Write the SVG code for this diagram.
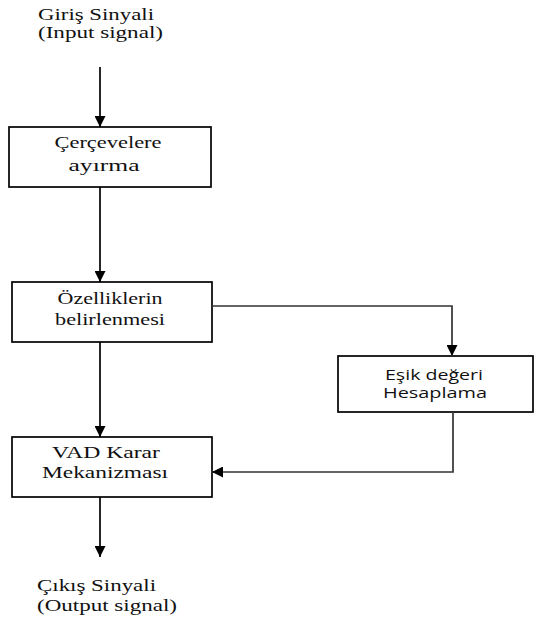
<svg xmlns="http://www.w3.org/2000/svg" width="534" height="624" viewBox="0 0 534 624">
<style>
.box{fill:#fff;stroke:#000;stroke-width:1.7}
.ln{fill:none;stroke:#000;stroke-width:1.7}
.lg{fill:none;stroke:#333;stroke-width:1.7}
.t{font-family:"Liberation Serif","Times New Roman",serif;font-size:16px;fill:#111}
.s{font-family:"Open Sans","Liberation Sans",sans-serif;font-size:14px;fill:#111}
.c{text-anchor:middle}
</style>
<defs>
<marker id="ah" viewBox="0 0 11 11" refX="11" refY="5.5" markerWidth="11" markerHeight="11" markerUnits="userSpaceOnUse" orient="auto">
<path d="M0,0 L11,5.5 L0,11 Z" fill="#000"/>
</marker>
</defs>
<rect width="534" height="624" fill="#fff"/>
<g id="input">
<text class="t" x="38" y="20" textLength="116" lengthAdjust="spacingAndGlyphs">Giriş Sinyali</text>
<text class="t" x="38" y="38" textLength="125" lengthAdjust="spacingAndGlyphs">(Input signal)</text>
</g>
<g id="cerceve">
<rect class="box" x="9" y="127" width="202" height="60"/>
<text class="t c" x="108" y="148" textLength="107" lengthAdjust="spacingAndGlyphs">Çerçevelere</text>
<text class="t c" x="104" y="171" textLength="71" lengthAdjust="spacingAndGlyphs">ayırma</text>
</g>
<g id="ozellik">
<rect class="box" x="12" y="282" width="200" height="60"/>
<text class="t c" x="110" y="304" textLength="105" lengthAdjust="spacingAndGlyphs">Özelliklerin</text>
<text class="t c" x="110" y="325" textLength="110" lengthAdjust="spacingAndGlyphs">belirlenmesi</text>
</g>
<g id="esik">
<rect class="box" x="338" y="356" width="195" height="56"/>
<text class="s c" x="434" y="380" textLength="98" lengthAdjust="spacingAndGlyphs">Eşik değeri</text>
<text class="s c" x="435" y="398" textLength="104" lengthAdjust="spacingAndGlyphs">Hesaplama</text>
</g>
<g id="vad">
<rect class="box" x="12" y="437" width="200" height="60"/>
<text class="t c" x="106" y="458" textLength="108" lengthAdjust="spacingAndGlyphs">VAD Karar</text>
<text class="t c" x="105" y="478" textLength="126" lengthAdjust="spacingAndGlyphs">Mekanizması</text>
</g>
<g id="output">
<text class="t" x="37" y="591" textLength="119" lengthAdjust="spacingAndGlyphs">Çıkış Sinyali</text>
<text class="t" x="37" y="611" textLength="140" lengthAdjust="spacingAndGlyphs">(Output signal)</text>
</g>
<g id="connectors">
<path class="ln" d="M100,67 V127" marker-end="url(#ah)"/>
<path class="ln" d="M100,187 V282" marker-end="url(#ah)"/>
<path class="ln" d="M100,342 V437" marker-end="url(#ah)"/>
<path class="ln" d="M100,497 V557" marker-end="url(#ah)"/>
<path class="lg" d="M212,306 H452 V356" marker-end="url(#ah)"/>
<path class="lg" d="M453,412 V472 H212" marker-end="url(#ah)"/>
</g>
</svg>
